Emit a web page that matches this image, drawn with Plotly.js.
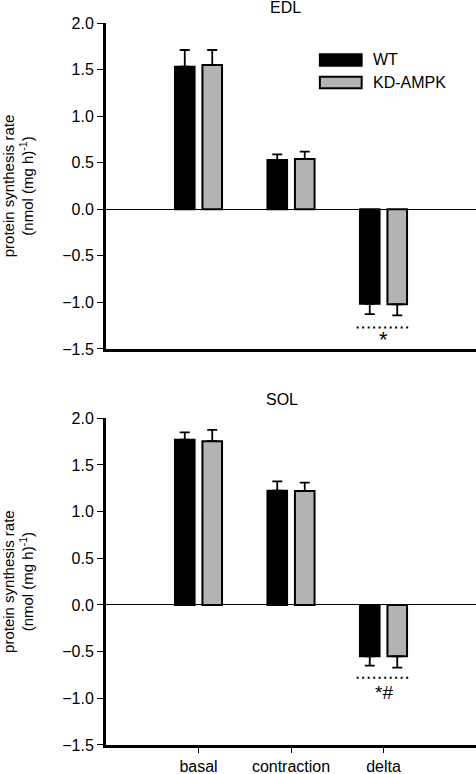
<!DOCTYPE html>
<html>
<head>
<meta charset="utf-8">
<script src="https://cdn.plot.ly/plotly-3.0.1.min.js"></script>
<style>html,body{margin:0;padding:0;background:#fff;}#chart{width:476px;height:774px;}</style>
</head>
<body>
<div id="chart"></div>
<script>
const categories = ['basal', 'contraction', 'delta'];
const seriesNames = ['WT', 'KD-AMPK'];

// EDL panel
const edlWT = [1.53, 0.53, -1.015];
const edlWTerr = [0.18, 0.06, 0.11];
const edlKD = [1.55, 0.54, -1.02];
const edlKDerr = [0.16, 0.08, 0.12];

// SOL panel
const solWT = [1.77, 1.225, -0.55];
const solWTerr = [0.08, 0.10, 0.10];
const solKD = [1.755, 1.22, -0.55];
const solKDerr = [0.12, 0.09, 0.12];

const yTicks = [-1.5, -1.0, -0.5, 0.0, 0.5, 1.0, 1.5, 2.0];
const panelTitles = ['EDL', 'SOL'];
const sigLabels = ['*', '*#'];
const sigY = [-1.27, -0.78];
const sigTextY = [-1.40, -0.94];

const colors = ['#000000', '#b3b3b3'];
const font = 'Liberation Sans, Arial, sans-serif';

function upErr(vals, errs) { return vals.map((v, i) => v >= 0 ? errs[i] : 0); }
function downErr(vals, errs) { return vals.map((v, i) => v < 0 ? errs[i] : 0); }

function bar(vals, errs, idx, xa, ya) {
  return {
    type: 'bar', x: categories, y: vals, name: seriesNames[idx],
    xaxis: xa, yaxis: ya, showlegend: false,
    marker: {color: colors[idx], line: {color: '#000', width: 2}},
    error_y: {type: 'data', symmetric: false, array: upErr(vals, errs), arrayminus: downErr(vals, errs),
              color: '#000', thickness: 1.8, width: 5}
  };
}

const data = [
  bar(edlWT, edlWTerr, 0, 'x', 'y'),
  bar(edlKD, edlKDerr, 1, 'x', 'y'),
  bar(solWT, solWTerr, 0, 'x2', 'y2'),
  bar(solKD, solKDerr, 1, 'x2', 'y2')
];

const yaxisBase = {
  range: [-1.5, 2.0], tickvals: yTicks, ticktext: yTicks.map(v => (v < 0 ? '\u2212' : '') + Math.abs(v).toFixed(1)),
  showgrid: false, zeroline: true, zerolinecolor: '#000', zerolinewidth: 1,
  showline: true, linecolor: '#000', linewidth: 3,
  ticks: 'outside', ticklen: 6, tickwidth: 1, tickcolor: '#000',
  tickfont: {family: font, size: 16, color: '#000'},
  title: {text: 'protein synthesis rate<br>(nmol (mg h)<sup>-1</sup>)', font: {family: font, size: 15, color: '#000'}, standoff: 26},
  automargin: false
};
const xaxisBase = {
  range: [-1, 3], showgrid: false, zeroline: false,
  showline: true, linecolor: '#000', linewidth: 3,
  tickfont: {family: font, size: 16, color: '#000'}, automargin: false
};

const annotations = [];
const shapes = [];
['', '2'].forEach((s, p) => {
  annotations.push({xref: 'x' + s + ' domain', yref: 'y' + s + ' domain', x: p === 0 ? 0.486 : 0.475, y: p === 0 ? 1.047 : 1.058,
    text: panelTitles[p], showarrow: false, font: {family: font, size: 16, color: '#000'}, xanchor: 'center', yanchor: 'middle'});
  annotations.push({xref: 'x' + s, yref: 'y' + s, x: 2, y: sigTextY[p], text: sigLabels[p], showarrow: false,
    font: {family: font, size: p === 0 ? 22 : 19, color: '#000'}, xanchor: 'center', yanchor: 'middle'});
  shapes.push({type: 'line', xref: 'x' + s, yref: 'y' + s, x0: 2 - 0.29, x1: 2 + 0.29, y0: sigY[p], y1: sigY[p],
    line: {color: '#000', width: 2, dash: '2px,3.5px'}});
});
// legend (top panel)
const legY = [[0.869, 0.904], [0.800, 0.835]];
seriesNames.forEach((n, i) => {
  shapes.push({type: 'rect', xref: 'x domain', yref: 'y domain', x0: 0.578, x1: 0.691, y0: legY[i][0], y1: legY[i][1],
    fillcolor: colors[i], line: {color: '#000', width: 2}});
  annotations.push({xref: 'x domain', yref: 'y domain', x: 0.716, y: (legY[i][0] + legY[i][1]) / 2, text: n, showarrow: false,
    font: {family: font, size: 16, color: '#000'}, xanchor: 'left', yanchor: 'middle'});
});

const layout = {
  width: 476, height: 774,
  margin: {l: 106, r: 0, t: 23, b: 29},
  paper_bgcolor: '#fff', plot_bgcolor: '#fff',
  barmode: 'group', bargap: 0.406, bargroupgap: 0.286,
  showlegend: false,
  xaxis: Object.assign({}, xaxisBase, {anchor: 'y', showticklabels: false, ticks: ''}),
  yaxis: Object.assign({}, yaxisBase, {domain: [0.5485, 1.0], anchor: 'x'}),
  xaxis2: Object.assign({}, xaxisBase, {anchor: 'y2', showticklabels: true, ticks: 'outside', ticklen: 5, tickwidth: 1, tickcolor: '#000'}),
  yaxis2: Object.assign({}, yaxisBase, {domain: [0, 0.4525], anchor: 'x2'}),
  annotations: annotations, shapes: shapes
};

Plotly.newPlot('chart', data, layout, {displayModeBar: false, staticPlot: true});
</script>
</body>
</html>
